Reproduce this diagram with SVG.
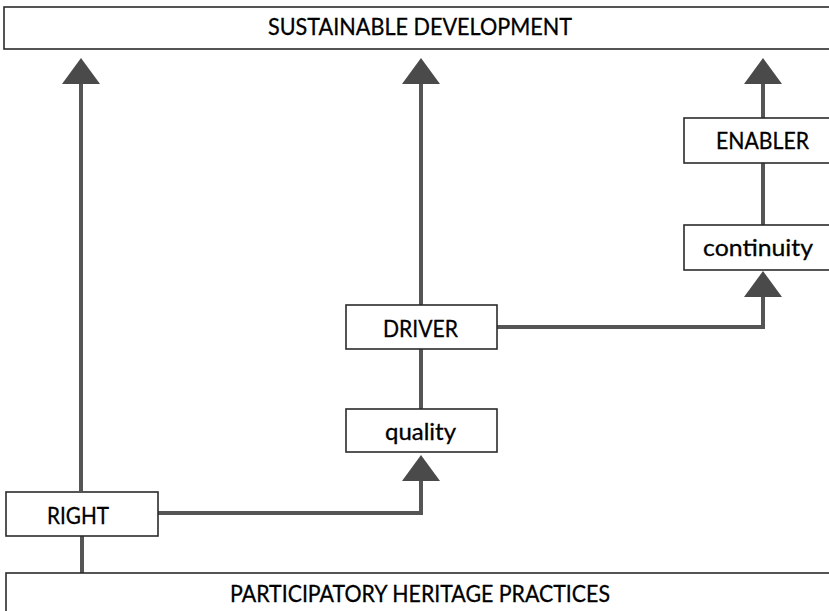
<svg xmlns="http://www.w3.org/2000/svg" width="829" height="611" viewBox="0 0 829 611">
<style>
.box{fill:#ffffff;stroke:#2b2b2b;stroke-width:1.6}
.lbl{font-family:Lato,"Open Sans","Liberation Sans",sans-serif;font-size:23px;fill:#000000;stroke:#000000;stroke-width:0.3;text-anchor:middle}
.con{fill:none;stroke:#555555;stroke-width:4}
.head{fill:#4a4a4a}
</style>
<rect width="829" height="611" fill="#ffffff"/>
<g id="connectors">
  <path class="con" d="M81,491 V82"/>
  <path class="con" d="M421,305 V82"/>
  <path class="con" d="M763,118 V82"/>
  <path class="con" d="M763,163 V225"/>
  <path class="con" d="M497,327 H763 V295"/>
  <path class="con" d="M421,349 V409"/>
  <path class="con" d="M158,513 H421 V478"/>
  <path class="con" d="M82,536 V573"/>
  <polygon class="head" points="81,58 62,84 100,84"/>
  <polygon class="head" points="421,58 402,84 440,84"/>
  <polygon class="head" points="763,58 744,84 782,84"/>
  <polygon class="head" points="763,271 744,297 782,297"/>
  <polygon class="head" points="421,455 402,481 440,481"/>
</g>
<g id="sustainable-development">
  <rect class="box" x="4" y="7" width="840" height="42"/>
  <text class="lbl" x="420" y="35" textLength="304" lengthAdjust="spacingAndGlyphs">SUSTAINABLE DEVELOPMENT</text>
</g>
<g id="enabler">
  <rect class="box" x="684" y="118" width="160" height="45"/>
  <text class="lbl" x="762.5" y="149" textLength="93" lengthAdjust="spacingAndGlyphs">ENABLER</text>
</g>
<g id="continuity">
  <rect class="box" x="684" y="225" width="160" height="45"/>
  <text class="lbl" x="758" y="256" textLength="110" lengthAdjust="spacingAndGlyphs">continuity</text>
</g>
<g id="driver">
  <rect class="box" x="346" y="305" width="151" height="44"/>
  <text class="lbl" x="420.5" y="337" textLength="75" lengthAdjust="spacingAndGlyphs">DRIVER</text>
</g>
<g id="quality">
  <rect class="box" x="346" y="409" width="151" height="43"/>
  <text class="lbl" x="420.5" y="440" textLength="71" lengthAdjust="spacingAndGlyphs">quality</text>
</g>
<g id="right">
  <rect class="box" x="6" y="492" width="152" height="44"/>
  <text class="lbl" x="78" y="524" textLength="62" lengthAdjust="spacingAndGlyphs">RIGHT</text>
</g>
<g id="participatory-heritage-practices">
  <rect class="box" x="6" y="573" width="840" height="50"/>
  <text class="lbl" x="420" y="602" textLength="380" lengthAdjust="spacingAndGlyphs">PARTICIPATORY HERITAGE PRACTICES</text>
</g>
</svg>
